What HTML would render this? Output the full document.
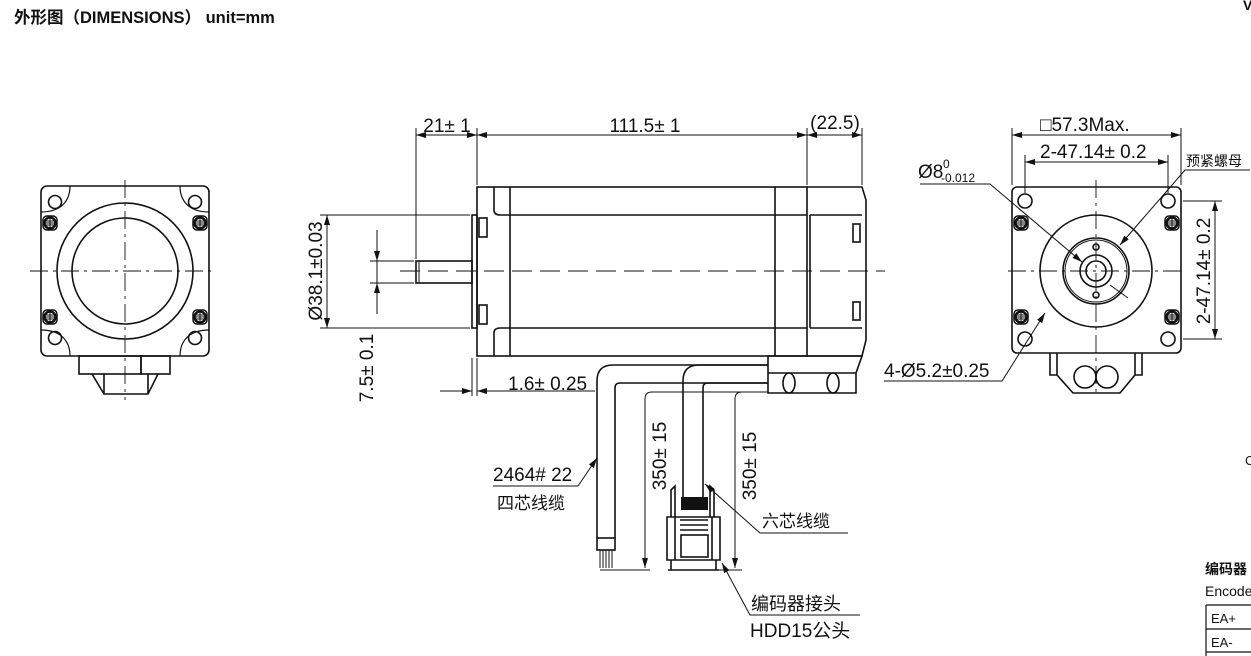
<!DOCTYPE html>
<html><head><meta charset="utf-8"><style>
html,body{margin:0;padding:0;background:#fff;}
svg{display:block;}
text{font-family:"Liberation Sans","Noto Sans CJK SC",sans-serif;fill:#111;}
</style></head><body>
<svg width="1251" height="656" viewBox="0 0 1251 656" xmlns="http://www.w3.org/2000/svg">
<defs>
<marker id="a" viewBox="0 0 10 6" refX="10" refY="3" markerWidth="10" markerHeight="6" orient="auto-start-reverse" markerUnits="userSpaceOnUse"><path d="M0,0L10,3L0,6z" fill="#111"/></marker>
<g id="scr"><rect x="-7" y="-7" width="14" height="14" rx="4" fill="#fff" stroke="#111" stroke-width="1.5"/><circle r="5.5" fill="#fff" stroke="#111" stroke-width="2.5"/><path d="M-5,0H5M0,-5V5M-4,-2H4M-4,2H4" stroke="#111" stroke-width="1"/></g>
</defs>
<text x="14" y="23" font-size="16.5" font-weight="bold">外形图（DIMENSIONS） unit=mm</text>

<g fill="none" stroke="#111" stroke-width="1.6">
<!-- LEFT VIEW -->
<rect x="41" y="186" width="168" height="170" rx="6"/>
<path d="M70,186 C70,200 62,212 41,212 M180,186 C180,200 188,212 209,212 M70,356 C70,342 62,330 41,330 M180,356 C180,342 188,330 209,330" stroke-width="1.2"/>
<circle cx="125" cy="271" r="68"/>
<circle cx="125" cy="271" r="53"/>
<circle cx="55" cy="202" r="6.5"/><circle cx="195" cy="202" r="6.5"/>
<circle cx="55" cy="338" r="6.5"/><circle cx="195" cy="338" r="6.5"/>
<rect x="79" y="356" width="62" height="18"/><rect x="141" y="356" width="29" height="18"/>
<path d="M92,374 L104,394 H148 L158,374 M104,374V394 M148,374V394"/>
<path d="M125,180V400 M30,271H216" stroke-width="0.9" stroke-dasharray="18,5,3,5"/>
</g>
<use href="#scr" x="50" y="223"/><use href="#scr" x="200" y="223"/><use href="#scr" x="50" y="317"/><use href="#scr" x="200" y="317"/>

<!-- SIDE VIEW -->
<g fill="none" stroke="#111" stroke-width="1.6">
<rect x="477" y="187" width="330" height="169"/>
<path d="M494,187V210 Q494,215 500,215 H807 M510,187V356 M775,187V356 M494,356V333 Q494,328 500,328 H807"/>
<path d="M807,187H862L866,200V340L862,356H807 M810,215V328 M810,215H862 M810,328H862"/>
<rect x="472" y="215" width="5" height="113"/>
<rect x="479" y="218" width="8" height="19"/><rect x="479" y="305" width="8" height="19"/>
<rect x="853" y="224" width="7" height="18"/><rect x="853" y="302" width="7" height="18"/>
<rect x="416" y="261" width="56" height="22"/><path d="M419,261V283" stroke-width="1"/>
<path d="M400,271H885" stroke-width="0.9" stroke-dasharray="20,8"/>
</g>
<g fill="none" stroke="#111" stroke-width="1">
<path d="M416,128V259 M477,128V185 M807,128V185 M862,128V185"/>
<path d="M416,135H477" marker-start="url(#a)" marker-end="url(#a)"/>
<path d="M477,135H807" marker-start="url(#a)" marker-end="url(#a)"/>
<path d="M807,135H862" marker-start="url(#a)" marker-end="url(#a)"/>
<path d="M320,215H470 M320,328H470"/>
<path d="M327,215V328" marker-start="url(#a)" marker-end="url(#a)"/>
<path d="M370,261H414 M370,283H414"/>
<path d="M377,230V261" marker-end="url(#a)"/><path d="M377,314V283" marker-end="url(#a)"/><path d="M377,261V283"/>
<path d="M472,358V396 M477,358V396"/>
<path d="M440,391H472" marker-end="url(#a)"/><path d="M595,391H477" marker-end="url(#a)"/>
</g>
<text x="447" y="132" font-size="19" text-anchor="middle">21± 1</text>
<text x="645" y="132" font-size="19" text-anchor="middle">111.5± 1</text>
<text x="835" y="129" font-size="19" text-anchor="middle">(22.5)</text>
<text transform="translate(322,271) rotate(-90)" font-size="19" text-anchor="middle">Ø38.1±0.03</text>
<text transform="translate(373,368) rotate(-90)" font-size="19" text-anchor="middle">7.5± 0.1</text>
<text x="508" y="390" font-size="19">1.6± 0.25</text>

<!-- cables -->
<g fill="none" stroke="#111" stroke-width="1.6">
<path d="M768,356H862L856,373V393H768Z M768,373H856"/>
<ellipse cx="789" cy="383" rx="6" ry="10"/><ellipse cx="833" cy="383" rx="6" ry="10"/>
<path d="M768,365H613 Q597,365 597,381V538 M768,383H620 Q615,383 615,388V538"/>
<path d="M768,365H699 Q683,365 683,381V497 M768,383H708 Q703,383 703,388V497"/>
<rect x="597" y="538" width="18" height="12"/>
<path d="M600,550V568M603,550V568M606,550V568M609,550V568M612,550V568" stroke-width="1"/>
<path d="M671,517V490L675,486V517 M710,517V486L714,490V517"/>
<path d="M667,517H720V560H667Z M675,517V560 M712,517V560"/>
<path d="M680,520H708M680,525H708M680,530H708"/>
<rect x="681" y="535" width="27" height="22"/>
<path d="M671,560V570 M716,560V570 M668,570H719"/>
</g>
<rect x="681" y="497" width="27" height="13" fill="#111"/>
<g fill="none" stroke="#111" stroke-width="1">
<path d="M768,392H652 Q645,392 645,399V568" marker-end="url(#a)"/>
<path d="M768,392H742 Q735,392 735,399V568" marker-end="url(#a)"/>
<path d="M600,570H650 M715,570H742"/>
<path d="M493,486H578L597,458" marker-end="url(#a)"/>
<path d="M848,533H760L705,484" marker-end="url(#a)"/>
<path d="M860,615H750L722,563" marker-end="url(#a)"/>
</g>
<text transform="translate(666,456) rotate(-90)" font-size="19" text-anchor="middle">350± 15</text>
<text transform="translate(756,466) rotate(-90)" font-size="19" text-anchor="middle">350± 15</text>
<text x="493" y="481" font-size="19">2464# 22</text>
<text x="497" y="509" font-size="17">四芯线缆</text>
<text x="762" y="527" font-size="17">六芯线缆</text>
<text x="751" y="610" font-size="18">编码器接头</text>
<text x="750" y="637" font-size="19">HDD15公头</text>

<!-- RIGHT VIEW -->
<g fill="none" stroke="#111" stroke-width="1.6">
<rect x="1012" y="187" width="169" height="166" rx="5"/>
<circle cx="1096" cy="271" r="56"/>
<circle cx="1096" cy="271" r="33"/><circle cx="1096" cy="271" r="31" stroke-width="1"/>
<circle cx="1096" cy="271" r="16"/><circle cx="1096" cy="271" r="10"/>
<circle cx="1096" cy="247" r="3"/><circle cx="1096" cy="295" r="3"/>
<circle cx="1025" cy="201" r="7"/><circle cx="1168" cy="201" r="7"/>
<circle cx="1025" cy="339" r="7"/><circle cx="1168" cy="339" r="7"/>
<path d="M1050,353V375H1057V353 M1142,353V375H1135V353 M1057,375L1073,393H1120L1135,375"/>
<circle cx="1085" cy="377" r="11"/><circle cx="1107" cy="377" r="11"/>
<path d="M1096,180V395 M1008,271H1185" stroke-width="0.9" stroke-dasharray="18,5,3,5"/>
</g>
<use href="#scr" x="1021" y="223"/><use href="#scr" x="1172" y="223"/><use href="#scr" x="1021" y="317"/><use href="#scr" x="1172" y="317"/>
<g fill="none" stroke="#111" stroke-width="1">
<path d="M1012,128V185 M1181,128V185 M1025,155V193 M1168,155V193"/>
<path d="M1012,135H1181" marker-start="url(#a)" marker-end="url(#a)"/>
<path d="M1025,162H1168" marker-start="url(#a)" marker-end="url(#a)"/>
<path d="M1183,201H1222 M1183,339H1222"/>
<path d="M1215,201V339" marker-start="url(#a)" marker-end="url(#a)"/>
<path d="M920,184H990L1082,262" marker-end="url(#a)"/><path d="M1110,285L1128,298"/>
<path d="M1250,170H1185L1120,245" marker-end="url(#a)"/>
<path d="M884,381H1002L1045,313" marker-end="url(#a)"/>
</g>
<text x="1040" y="131" font-size="19">□57.3Max.</text>
<text x="1040" y="158" font-size="19">2-47.14± 0.2</text>
<text x="918" y="178" font-size="19">Ø8</text>
<text x="943" y="168" font-size="12">0</text>
<text x="941" y="182" font-size="12">-0.012</text>
<text x="1186" y="166" font-size="14">预紧螺母</text>
<text transform="translate(1210,271) rotate(-90)" font-size="19" text-anchor="middle">2-47.14± 0.2</text>
<text x="884" y="377" font-size="19">4-Ø5.2±0.25</text>

<!-- right edge partial -->
<text x="1243" y="10" font-size="14" font-weight="bold">V</text>
<text x="1245" y="465" font-size="13">C</text>
<text x="1205" y="574" font-size="14" font-weight="bold">编码器</text>
<text x="1205" y="596" font-size="14">Encoder</text>
<g fill="none" stroke="#111" stroke-width="1.2"><path d="M1206,605H1251 M1206,629H1251 M1206,652H1251 M1206,605V656"/></g>
<text x="1211" y="623" font-size="13">EA+</text>
<text x="1211" y="647" font-size="13">EA-</text>
</svg>
</body></html>
